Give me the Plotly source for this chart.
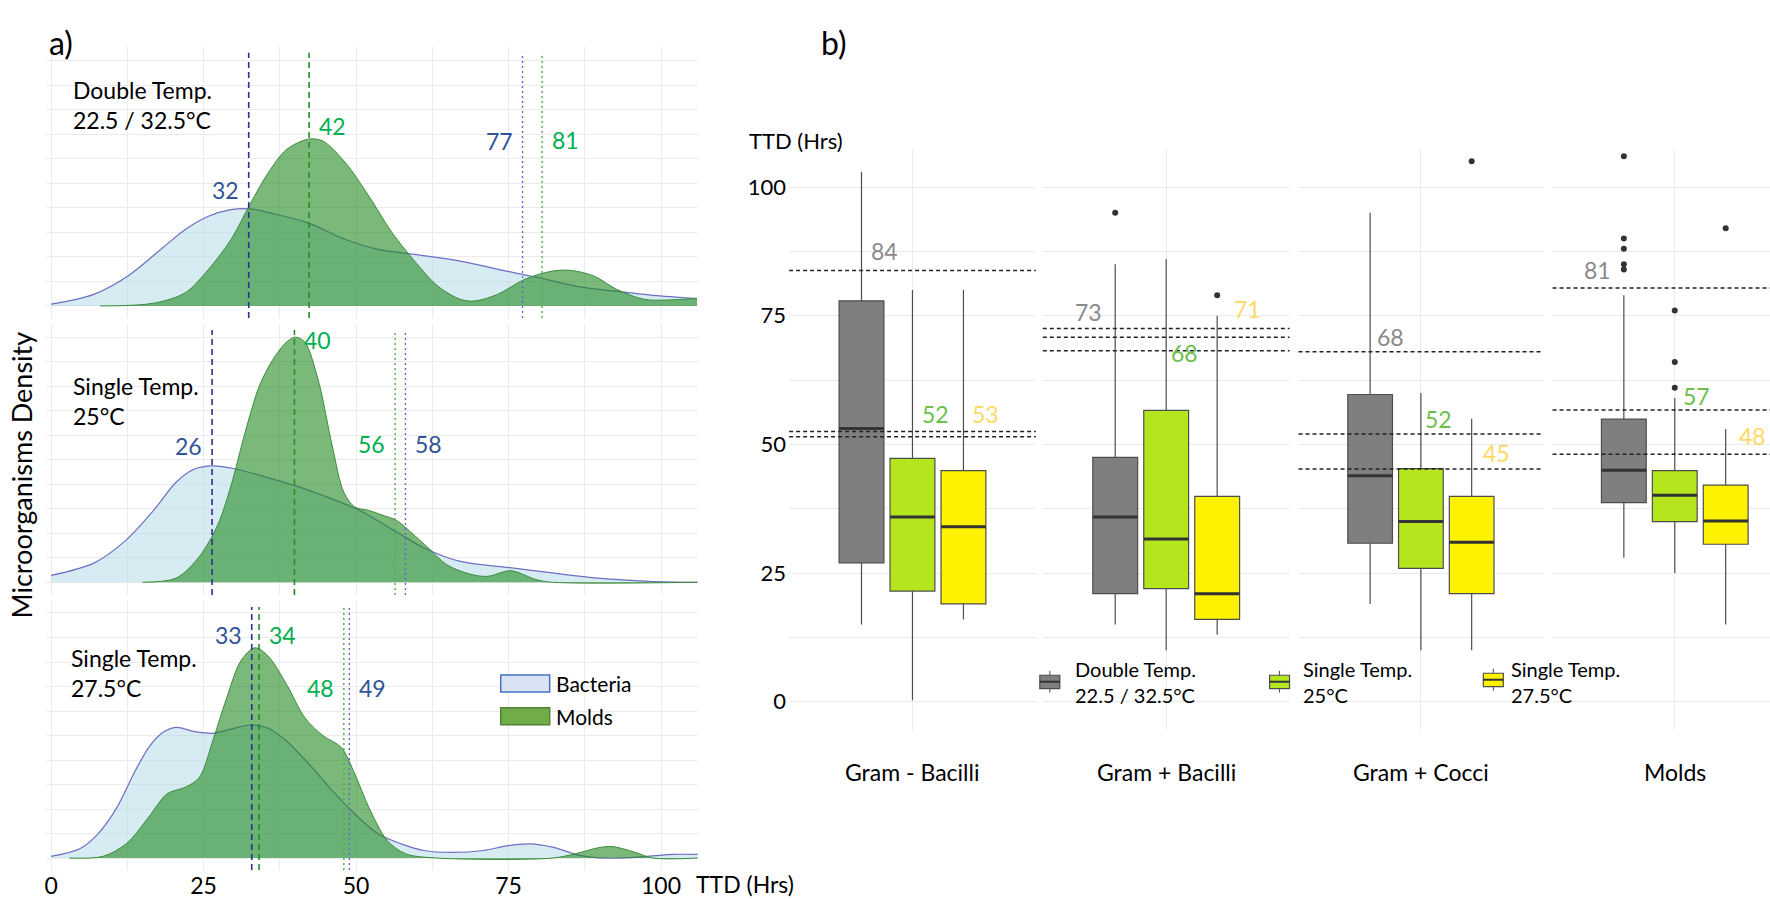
import plotly.graph_objects as go

W, H = 1770, 899
FONT = "Lato"

# ---------------- Panel a: density curves (x = TTD hours, y = density in grid units) ----------------
panel_titles = ["Double Temp.<br>22.5 / 32.5°C", "Single Temp.<br>25°C", "Single Temp.<br>27.5°C"]

bact_top_x = [0, 7, 12.6, 18.3, 22, 25.8, 29.5, 32.6, 37, 42.3, 48.3, 53.6, 59.6, 67.1, 74.7, 80, 86, 93.5, 98.7, 105.9]
bact_top_y = [0.07, 0.47, 1.22, 2.37, 3.12, 3.66, 3.93, 3.96, 3.73, 3.37, 2.71, 2.31, 2.10, 1.83, 1.42, 1.15, 0.81, 0.57, 0.43, 0.30]
mold_top_x = [8, 16.8, 22, 25.8, 29.5, 32.6, 35.6, 38.6, 42.3, 44.6, 48.3, 52.1, 55.9, 58.9, 63.4, 67.1, 69.4, 73.2, 77.7, 82.2, 85.2, 89, 92.7, 97.2, 101, 105.9]
mold_top_y = [0, 0.11, 0.54, 1.49, 2.71, 4.14, 5.43, 6.38, 6.81, 6.72, 5.83, 4.48, 2.99, 2.04, 0.81, 0.27, 0.20, 0.47, 1.09, 1.42, 1.45, 1.22, 0.68, 0.27, 0.24, 0.31]

bact_mid_x = [0, 7, 12.3, 16.8, 20.5, 23.5, 26.5, 30.3, 34.8, 40, 44.6, 50.6, 56.6, 61.1, 67.1, 74.7, 82.2, 89.7, 98, 106]
bact_mid_y = [0.28, 0.78, 1.72, 2.93, 4.08, 4.62, 4.75, 4.62, 4.32, 3.94, 3.54, 2.93, 2.06, 1.41, 0.85, 0.61, 0.38, 0.17, 0.04, 0]
mold_mid_x = [15, 20.5, 24.3, 27.3, 29.5, 31.8, 34.1, 36.3, 38.6, 40.1, 41.6, 43.8, 46.1, 48, 49.8, 52.1, 54.4, 56.6, 58.9, 61.9, 64.9, 68.6, 71.5, 75.4, 79.5, 82.2, 106]
mold_mid_y = [0, 0.17, 1.05, 2.33, 3.94, 6.10, 7.98, 9.06, 9.80, 10.0, 9.80, 8.25, 5.56, 3.67, 3.07, 2.93, 2.73, 2.53, 2.06, 1.39, 0.71, 0.34, 0.24, 0.47, 0.11, 0, 0]

bact_bot_x = [0, 4.7, 7.7, 10.8, 13.8, 16, 18.3, 20.5, 23.5, 26.5, 29.5, 32.6, 35.6, 38.6, 42.3, 46.1, 49.8, 53.6, 57.4, 61.1, 65.6, 70.9, 74.7, 78.4, 82.2, 86.7, 89.7, 93.5, 98.7, 102, 106]
bact_bot_y = [0.07, 0.38, 0.99, 2.07, 3.56, 4.51, 5.12, 5.33, 5.16, 5.09, 5.26, 5.43, 5.30, 4.78, 3.83, 2.75, 1.80, 0.99, 0.58, 0.31, 0.23, 0.31, 0.50, 0.58, 0.45, 0.11, 0.01, 0, 0.09, 0.15, 0.15]
mold_bot_x = [3, 8.5, 12.3, 16, 19, 22, 24.3, 26.5, 28.8, 31.1, 33.4, 35.6, 38.6, 41.6, 44.6, 47.6, 49.8, 52.1, 55.1, 58.1, 63.4, 82.2, 86, 89.7, 92, 95.7, 98.7, 106]
mold_bot_y = [0, 0.07, 0.58, 1.67, 2.62, 2.89, 3.29, 4.78, 6.54, 8.04, 8.58, 8.24, 7.09, 5.73, 4.99, 4.51, 3.43, 2.07, 0.72, 0.18, 0, 0, 0.18, 0.42, 0.47, 0.24, 0, 0]

bact_x = [bact_top_x, bact_mid_x, bact_bot_x]
bact_y = [bact_top_y, bact_mid_y, bact_bot_y]
mold_x = [mold_top_x, mold_mid_x, mold_bot_x]
mold_y = [mold_top_y, mold_mid_y, mold_bot_y]

# reference lines (hours): medians (dashed) and 95th percentiles (dotted)
bact_median = [32.4, 26.4, 32.9]
mold_median = [42.3, 39.9, 34.1]
bact_p95 = [77.3, 58.1, 48.9]
mold_p95 = [80.5, 56.4, 48.0]
bact_median_lbl = ["32", "26", "33"]
mold_median_lbl = ["42", "40", "34"]
bact_p95_lbl = ["77", "58", "49"]
mold_p95_lbl = ["81", "56", "48"]
# label heights (grid units)
bact_median_lbl_y = [4.72, 5.56, 9.09]
mold_median_lbl_y = [7.33, 9.89, 9.12]
bact_p95_lbl_y = [6.72, 5.63, 6.95]
mold_p95_lbl_y = [6.76, 5.63, 6.95]

xticks_a = [0, 12.5, 25, 37.5, 50, 62.5, 75, 87.5, 100]
xticktext_a = ["0", "", "25", "", "50", "", "75", "", "100"]

# ---------------- Panel b: boxplots ----------------
categories = ["Gram - Bacilli", "Gram + Bacilli", "Gram + Cocci", "Molds"]
group_names = ["Double Temp.<br>22.5 / 32.5°C", "Single Temp.<br>25°C", "Single Temp.<br>27.5°C"]

double_lf = [15, 15, 19, 28]
double_q1 = [27.0, 21.0, 30.8, 38.7]
double_med = [53.1, 35.9, 43.9, 45.0]
double_q3 = [77.9, 47.5, 59.7, 54.9]
double_uf = [103, 85, 95, 79]
double_out = [[], [95], [], [106, 90, 88, 85, 84]]

s25_lf = [0.3, 10, 10, 25]
s25_q1 = [21.5, 22.0, 25.9, 35.0]
s25_med = [35.9, 31.6, 35.0, 40.1]
s25_q3 = [47.3, 56.6, 45.3, 44.9]
s25_uf = [80, 86, 60, 59]
s25_out = [[], [], [], [76, 66, 61]]

s275_lf = [16, 13, 10, 15]
s275_q1 = [19.0, 16.0, 21.0, 30.6]
s275_med = [34.0, 21.0, 31.0, 35.1]
s275_q3 = [44.9, 39.9, 39.9, 42.1]
s275_uf = [80, 75, 55, 53]
s275_out = [[], [79], [105], [92]]

double_p95 = [83.8, 72.5, 68.0, 80.4]
s25_p95 = [51.5, 68.2, 52.0, 56.7]
s275_p95 = [52.5, 70.8, 45.2, 48.1]
double_p95_lbl = ["84", "73", "68", "81"]
s25_p95_lbl = ["52", "68", "52", "57"]
s275_p95_lbl = ["53", "71", "45", "48"]
# label placement (x offset from box centre in box units, y in hours)
double_lbl_dx = [0.45, -0.52, 0.40, -0.52]
double_lbl_y = [87.6, 75.7, 70.9, 83.8]
s25_lbl_dx = [0.46, 0.35, 0.35, 0.42]
s25_lbl_y = [56.0, 67.8, 54.9, 59.4]
s275_lbl_dx = [0.44, 0.59, 0.48, 0.52]
s275_lbl_y = [56.0, 76.4, 48.3, 51.6]

yticks_b = [0, 12.5, 25, 37.5, 50, 62.5, 75, 87.5, 100]
yticktext_b = ["0", "", "25", "", "50", "", "75", "", "100"]

# ---------------- styles ----------------
BACT_FILL = "rgba(173,216,230,0.5)"
BACT_LINE = "rgb(110,110,196)"
MOLD_FILL = "rgba(34,139,34,0.6)"
MOLD_LINE = "rgb(60,140,60)"
BLUE_TXT = "#2f5597"
GREEN_TXT = "#00b050"
GRID = "#ebebeb"

box_fill = ["#7f7f7f", "#b5e61d", "#fff200"]
lbl_col = ["#8a8a8a", "#6cc04a", "#ffd966"]
box_pos = [-1, 0, 1]
BOXW = 0.88


def px(xp):
    return xp / W


def py(yp):
    return 1 - yp / H


fig = go.Figure()
layout = dict(width=W, height=H, margin=dict(l=0, r=0, t=0, b=0),
              paper_bgcolor="white", plot_bgcolor="white", showlegend=False,
              font=dict(family=FONT, size=22, color="black"), hovermode=False)

# panel a axes
a_ydom = [(319, 47), (597, 325), (873, 603)]
a_yrng = [(-0.49, 10.57), (-0.52, 10.54), (-0.49, 10.49)]
annotations = []
shapes = []
for i in range(3):
    xa = "x" if i == 0 else f"x{i+1}"
    ya = "y" if i == 0 else f"y{i+1}"
    xk = "xaxis" if i == 0 else f"xaxis{i+1}"
    yk = "yaxis" if i == 0 else f"yaxis{i+1}"
    layout[xk] = dict(domain=[px(44), px(697)], range=[-0.84, 106.1], anchor=ya,
                      tickvals=xticks_a, ticktext=xticktext_a, showgrid=True, gridcolor=GRID,
                      gridwidth=1, zeroline=False, showline=False, ticks="",
                      showticklabels=(i == 2), tickfont=dict(size=23, family=FONT))
    layout[yk] = dict(domain=[py(a_ydom[i][0]), py(a_ydom[i][1])], range=list(a_yrng[i]), anchor=xa,
                      dtick=1, tick0=0, showgrid=True, gridcolor=GRID, gridwidth=1,
                      zeroline=False, showticklabels=False, ticks="")
    fig.add_trace(go.Scatter(x=bact_x[i], y=bact_y[i], mode="lines", fill="tozeroy",
                             fillcolor=BACT_FILL, line=dict(color=BACT_LINE, width=1.2, shape="spline", smoothing=0.9),
                             xaxis=xa, yaxis=ya))
    fig.add_trace(go.Scatter(x=mold_x[i], y=mold_y[i], mode="lines", fill="tozeroy",
                             fillcolor=MOLD_FILL, line=dict(color=MOLD_LINE, width=1, shape="spline", smoothing=0.9),
                             xaxis=xa, yaxis=ya))
    # vertical reference lines
    for val, col, dash, wd in [(bact_median[i], "rgb(45,45,150)", "6px,4px", 1.6),
                               (mold_median[i], "rgb(35,145,35)", "6px,4px", 1.6),
                               (bact_p95[i], "rgb(100,100,210)", "2px,3px", 1.4),
                               (mold_p95[i], "rgb(70,180,70)", "2px,3px", 1.4)]:
        shapes.append(dict(type="line", xref=xa, yref=f"{ya} domain", x0=val, x1=val, y0=0, y1=0.978,
                           line=dict(color=col, width=wd, dash=dash), layer="above"))
    # value labels: smaller value of pair on the left, larger on the right
    pairs = [(bact_median[i], mold_median[i], bact_median_lbl[i], mold_median_lbl[i],
              bact_median_lbl_y[i], mold_median_lbl_y[i]),
             (bact_p95[i], mold_p95[i], bact_p95_lbl[i], mold_p95_lbl[i],
              bact_p95_lbl_y[i], mold_p95_lbl_y[i])]
    for bv, mv, bl, ml, by, my in pairs:
        b_left = bv <= mv
        annotations.append(dict(x=bv, y=by, xref=xa, yref=ya, text=bl, showarrow=False,
                                xanchor="right" if b_left else "left", xshift=-8 if b_left else 8,
                                font=dict(size=23, color=BLUE_TXT, family=FONT)))
        annotations.append(dict(x=mv, y=my, xref=xa, yref=ya, text=ml, showarrow=False,
                                xanchor="left" if b_left else "right", xshift=8 if b_left else -8,
                                font=dict(size=23, color=GREEN_TXT, family=FONT)))

# panel titles in a
title_pos = [(69, 105), (69, 402), (67, 675)]
for t, (xp_, yp_) in zip(panel_titles, title_pos):
    annotations.append(dict(x=px(xp_), y=py(yp_), xref="paper", yref="paper", text=t, showarrow=False,
                            xanchor="left", yanchor="middle", align="left",
                            font=dict(size=23, family=FONT, color="black")))

annotations.append(dict(x=px(45), y=py(43), xref="paper", yref="paper", text="a)", showarrow=False,
                        xanchor="left", yanchor="middle", font=dict(size=32, family=FONT)))
annotations.append(dict(x=px(818), y=py(43), xref="paper", yref="paper", text="b)", showarrow=False,
                        xanchor="left", yanchor="middle", font=dict(size=32, family=FONT)))
annotations.append(dict(x=px(693), y=py(887), xref="paper", yref="paper", text="TTD (Hrs)", showarrow=False,
                        xanchor="left", yanchor="middle", font=dict(size=23, family=FONT)))
annotations.append(dict(x=px(19), y=py(476), xref="paper", yref="paper", text="Microorganisms Density",
                        showarrow=False, textangle=-90, xanchor="center", yanchor="middle",
                        font=dict(size=27, family=FONT)))

# legend of panel a
leg_a = [("Bacteria", "#dae3f3", "#4472c4", 677.3, 694.3), ("Molds", "#70ad47", "#548235", 710, 727.3)]
for name, fc, lc, y0, y1 in leg_a:
    shapes.append(dict(type="rect", xref="paper", yref="paper", x0=px(499.3), x1=px(548.3),
                       y0=py(y1), y1=py(y0), fillcolor=fc, line=dict(color=lc, width=1.5), layer="above"))
    annotations.append(dict(x=px(553), y=py((y0 + y1) / 2), xref="paper", yref="paper", text=name,
                            showarrow=False, xanchor="left", yanchor="middle", font=dict(size=21, family=FONT)))

# ---------------- panel b ----------------
f_dom = [(788, 1035), (1042, 1289), (1298, 1543), (1552.3, 1770)]
f_rng = [(-2.42, 2.42), (-2.42, 2.42), (-2.41, 2.41), (-2.40, 1.87)]
group_stats = [
    (double_lf, double_q1, double_med, double_q3, double_uf, double_out, double_p95, double_p95_lbl, double_lbl_dx, double_lbl_y),
    (s25_lf, s25_q1, s25_med, s25_q3, s25_uf, s25_out, s25_p95, s25_p95_lbl, s25_lbl_dx, s25_lbl_y),
    (s275_lf, s275_q1, s275_med, s275_q3, s275_uf, s275_out, s275_p95, s275_p95_lbl, s275_lbl_dx, s275_lbl_y),
]
for f in range(4):
    n = f + 4
    xa, ya = f"x{n}", f"y{n}"
    layout[f"xaxis{n}"] = dict(domain=[px(f_dom[f][0]), px(f_dom[f][1])], range=list(f_rng[f]), anchor=ya,
                               tickvals=[0], showticklabels=False, showgrid=True, gridcolor=GRID, gridwidth=1,
                               zeroline=False, ticks="")
    layout[f"yaxis{n}"] = dict(domain=[py(732), py(150)], range=[-5.4, 107.3], anchor=xa,
                               tickvals=yticks_b, ticktext=yticktext_b, showticklabels=(f == 0),
                               showgrid=True, gridcolor=GRID, gridwidth=1, zeroline=False, ticks="",
                               tickfont=dict(size=22, family=FONT), ticklabelstandoff=2)
    for g in range(3):
        p95 = group_stats[g][6][f]
        shapes.append(dict(type="line", xref=f"{xa} domain", yref=ya, x0=0, x1=1, y0=p95, y1=p95,
                           line=dict(color="#222222", width=1.5, dash="4px,3px"), layer="above"))
    for g in range(3):
        lf, q1, med, q3, uf, out, p95, p95l, ldx, ly = group_stats[g]
        pos = box_pos[g]
        fig.add_trace(go.Box(x=[pos], q1=[q1[f]], median=[med[f]], q3=[q3[f]], lowerfence=[lf[f]],
                             upperfence=[uf[f]], width=BOXW, whiskerwidth=0, fillcolor=box_fill[g],
                             line=dict(color="#4d4d4d", width=1.2), boxpoints=False, xaxis=xa, yaxis=ya))
        fig.add_trace(go.Scatter(x=[pos - BOXW / 2, pos + BOXW / 2], y=[med[f], med[f]], mode="lines",
                                 line=dict(color="#333333", width=3), xaxis=xa, yaxis=ya))
        if out[f]:
            fig.add_trace(go.Scatter(x=[pos] * len(out[f]), y=out[f], mode="markers",
                                     marker=dict(color="#333333", size=6), xaxis=xa, yaxis=ya))
        annotations.append(dict(x=pos + ldx[f], y=ly[f], xref=xa, yref=ya, text=p95l[f], showarrow=False,
                                xanchor="center", yanchor="middle",
                                font=dict(size=23, color=lbl_col[g], family=FONT)))
    centre = (f_dom[f][0] + f_dom[f][1]) / 2 if f < 3 else 1674.6
    annotations.append(dict(x=px(centre), y=py(775), xref="paper", yref="paper", text=categories[f],
                            showarrow=False, xanchor="center", yanchor="middle", font=dict(size=23, family=FONT)))

annotations.append(dict(x=px(746), y=py(141), xref="paper", yref="paper", text="TTD (Hrs)", showarrow=False,
                        xanchor="left", yanchor="middle", font=dict(size=22, family=FONT)))

# legend of panel b (boxplot glyphs)
leg_b = [(1049, 684, 1072), (1279, 684, 1300), (1493, 682, 1509)]
for g, (cx, cy, tx) in enumerate(leg_b):
    shapes.append(dict(type="line", xref="paper", yref="paper", x0=px(cx), x1=px(cx), y0=py(cy - 11), y1=py(cy + 11),
                       line=dict(color="#4d4d4d", width=1)))
    shapes.append(dict(type="rect", xref="paper", yref="paper", x0=px(cx - 10), x1=px(cx + 10), y0=py(cy + 7),
                       y1=py(cy - 6.5), fillcolor=box_fill[g], line=dict(color="#4d4d4d", width=1.2)))
    shapes.append(dict(type="line", xref="paper", yref="paper", x0=px(cx - 10), x1=px(cx + 10), y0=py(cy), y1=py(cy),
                       line=dict(color="#333333", width=2)))
    annotations.append(dict(x=px(tx), y=py(684), xref="paper", yref="paper", text=group_names[g], showarrow=False,
                            xanchor="left", yanchor="middle", align="left", font=dict(size=20, family=FONT)))

layout["annotations"] = annotations
layout["shapes"] = shapes
fig.update_layout(**layout)
fig.write_html("out.html", config={"displayModeBar": False, "staticPlot": False},
               post_script="document.body.style.margin='0';document.body.style.overflow='hidden';")
